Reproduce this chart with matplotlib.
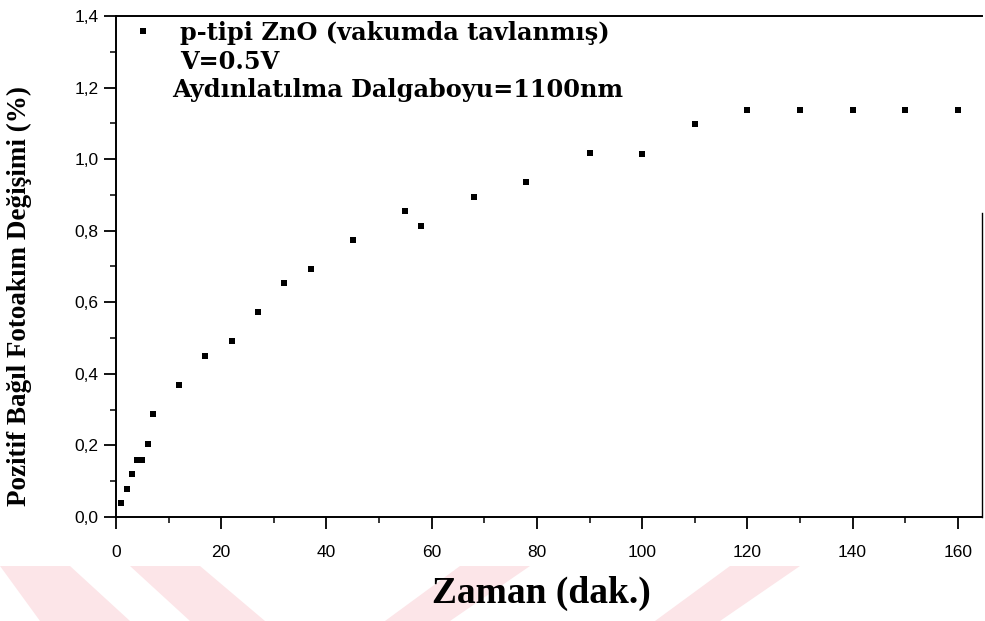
import matplotlib
matplotlib.use("Agg")
import matplotlib.pyplot as plt
from matplotlib.patches import Polygon
from matplotlib.ticker import MultipleLocator, FuncFormatter
from matplotlib.lines import Line2D

# Measured photocurrent change over time
time_min = [1, 2, 3, 4, 5, 6, 7, 12, 17, 22, 27, 32, 37, 45, 55, 58, 68, 78,
            90, 100, 110, 120, 130, 140, 150, 160]
photocurrent_pct = [0.038, 0.078, 0.120, 0.160, 0.160, 0.204, 0.287, 0.368,
                    0.451, 0.492, 0.572, 0.654, 0.693, 0.773, 0.856, 0.814,
                    0.895, 0.935, 1.018, 1.014, 1.098, 1.138, 1.138, 1.138,
                    1.138, 1.138]

series_label = "p-tipi ZnO (vakumda tavlanmış)"
note_voltage = "V=0.5V"
note_wavelength = "Aydınlatılma Dalgaboyu=1100nm"
x_label = "Zaman (dak.)"
y_label = "Pozitif Bağıl Fotoakım Değişimi (%)"

W, H = 985, 621
fig = plt.figure(figsize=(W / 100, H / 100), dpi=100)
fig.patch.set_facecolor("white")

# pale decorative bands along the bottom edge (pixel coords, y downward)
bands = [
    [(0, 566), (70, 566), (130, 621), (40, 621)],
    [(130, 566), (200, 566), (265, 621), (190, 621)],
    [(460, 566), (530, 566), (450, 621), (385, 621)],
    [(730, 566), (800, 566), (720, 621), (655, 621)],
]
for pts in bands:
    poly = Polygon([(x / W, 1 - y / H) for x, y in pts], closed=True,
                   transform=fig.transFigure, facecolor="#fce5e8",
                   edgecolor="none", zorder=-5)
    fig.patches.append(poly)

ax = fig.add_axes([116 / W, 1 - 517 / H, (982 - 116) / W, (517 - 16) / H])
ax.set_zorder(1)
ax.patch.set_alpha(0)

ax.plot(time_min, photocurrent_pct, linestyle="none", marker="s",
        markersize=4.6, color="black", markeredgewidth=0)

ax.set_xlim(0, 164.6)
ax.set_ylim(0, 1.4)
ax.xaxis.set_major_locator(MultipleLocator(20))
ax.xaxis.set_minor_locator(MultipleLocator(10))
ax.yaxis.set_major_locator(MultipleLocator(0.2))
ax.yaxis.set_minor_locator(MultipleLocator(0.1))
ax.yaxis.set_major_formatter(FuncFormatter(lambda v, p: f"{v:.1f}".replace(".", ",")))
ax.xaxis.set_major_formatter(FuncFormatter(lambda v, p: f"{v:.0f}"))

ax.tick_params(which="major", direction="out", length=8.5, width=1.3,
               labelsize=12.5)
ax.tick_params(which="minor", direction="out", length=4.5, width=1.1)
ax.tick_params(axis="x", which="both", top=False, pad=12)
ax.tick_params(axis="y", which="both", right=False, pad=4)
for lab in ax.get_xticklabels() + ax.get_yticklabels():
    lab.set_fontfamily("Liberation Sans")

for side in ("left", "bottom", "top"):
    ax.spines[side].set_linewidth(1.4)
ax.spines["right"].set_visible(False)
ax.add_line(Line2D([1, 1], [0, 0.607], transform=ax.transAxes,
                   color="black", linewidth=1.0, clip_on=False))

ax.set_xlabel(x_label, fontfamily="Liberation Serif", fontweight="bold",
              fontsize=27)
ax.xaxis.set_label_coords(0.491, -0.152)
ax.xaxis.label.set_va("center")
ax.set_ylabel(y_label, fontfamily="Liberation Serif", fontweight="bold",
              fontsize=19.5)
ax.yaxis.set_label_coords(-0.111, 0.441)
ax.yaxis.label.set_va("center")

# legend entry and measurement notes
txt_kw = dict(fontfamily="DejaVu Serif", fontweight="bold", fontsize=17.3,
              transform=fig.transFigure, va="center", ha="left")
fig.add_artist(Line2D([143 / W], [1 - 31 / H], marker="s", markersize=4.6,
                      color="black", markeredgewidth=0, linestyle="none",
                      transform=fig.transFigure))
fig.text(180 / W, 1 - 33 / H, series_label, **txt_kw)
fig.text(180 / W, 1 - 62 / H, note_voltage, **txt_kw)
fig.text(172 / W, 1 - 90 / H, note_wavelength, **txt_kw)

fig.savefig("out.png", dpi=100, facecolor="white")
